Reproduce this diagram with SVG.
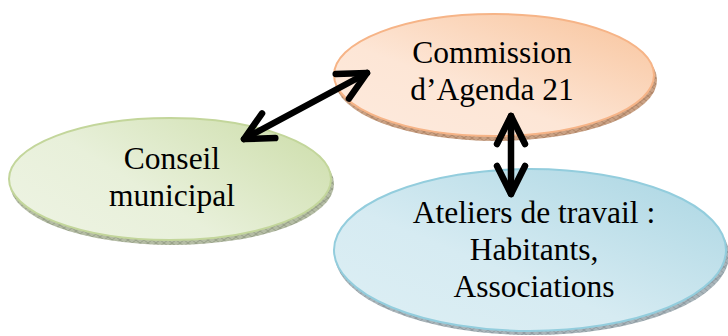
<svg xmlns="http://www.w3.org/2000/svg" width="728" height="336" viewBox="0 0 728 336">
<style>
text{font-family:'Liberation Serif','Times New Roman','DejaVu Serif',serif;font-size:31.5px;fill:#000;text-anchor:middle}
.conn{stroke:#000;stroke-width:6.5;fill:none;stroke-linecap:round;marker-start:url(#chev);marker-end:url(#chev)}
</style>
<defs>
<marker id="chev" markerUnits="userSpaceOnUse" markerWidth="70" markerHeight="70" refX="0" refY="0" viewBox="-40 -35 70 70" orient="auto-start-reverse" overflow="visible">
<path d="M -28 -14 L 0 0 L -28 14" fill="none" stroke="#000" stroke-width="6.5" stroke-linecap="round" stroke-linejoin="round"/>
</marker>
<linearGradient id="gOr" x1="1" y1="0" x2="0" y2="1">
<stop offset="0" stop-color="#f8c39b"/>
<stop offset="0.6" stop-color="#fde6d6"/>
<stop offset="1" stop-color="#fdeadd"/>
</linearGradient>
<linearGradient id="gGr" x1="1" y1="0.2" x2="0" y2="0.8">
<stop offset="0" stop-color="#cfdfae"/>
<stop offset="0.6" stop-color="#e8f0da"/>
<stop offset="1" stop-color="#edf3e2"/>
</linearGradient>
<linearGradient id="gBl" x1="1" y1="0" x2="0" y2="1">
<stop offset="0" stop-color="#a9d5e2"/>
<stop offset="0.6" stop-color="#d6ebf2"/>
<stop offset="1" stop-color="#ddeff4"/>
</linearGradient>
<pattern id="hOr" width="8" height="6" patternUnits="userSpaceOnUse">
<rect width="8" height="6" fill="#c9a184"/>
<path d="M0 6 L8 0 M0 0 L8 6" stroke="#a87c5e" stroke-width="0.8"/>
</pattern>
<pattern id="hGr" width="8" height="6" patternUnits="userSpaceOnUse">
<rect width="8" height="6" fill="#b4bca4"/>
<path d="M0 6 L8 0 M0 0 L8 6" stroke="#8f9880" stroke-width="0.8"/>
</pattern>
<pattern id="hBl" width="8" height="6" patternUnits="userSpaceOnUse">
<rect width="8" height="6" fill="#a9b5ba"/>
<path d="M0 6 L8 0 M0 0 L8 6" stroke="#86939a" stroke-width="0.8"/>
</pattern>
</defs>
<rect width="728" height="336" fill="#fff"/>

<g id="node-conseil">
<ellipse cx="172" cy="184" rx="162" ry="61" fill="url(#hGr)"/>
<ellipse cx="170" cy="179" rx="161" ry="61" fill="url(#gGr)" stroke="#c3d69b" stroke-width="2"/>
<text x="172" y="169" font-family="Liberation Serif, serif">Conseil</text>
<text x="172" y="206" font-family="Liberation Serif, serif">municipal</text>
</g>

<g id="node-commission">
<ellipse cx="496" cy="80" rx="161" ry="61" fill="url(#hOr)"/>
<ellipse cx="494" cy="75" rx="160" ry="61" fill="url(#gOr)" stroke="#f6b487" stroke-width="2"/>
<text x="492" y="63" font-family="Liberation Serif, serif">Commission</text>
<text x="492" y="100" font-family="Liberation Serif, serif">d’Agenda 21</text>
</g>

<g id="node-ateliers">
<ellipse cx="532" cy="255" rx="197" ry="80" fill="url(#hBl)"/>
<ellipse cx="530" cy="250" rx="196" ry="81" fill="url(#gBl)" stroke="#93cddd" stroke-width="2"/>
<text x="534" y="223" font-family="Liberation Serif, serif">Ateliers de travail :</text>
<text x="534" y="260" font-family="Liberation Serif, serif">Habitants,</text>
<text x="534" y="297" font-family="Liberation Serif, serif">Associations</text>
</g>

<g id="connectors">
<line class="conn" x1="244" y1="139" x2="367" y2="73"/>
<line class="conn" x1="511" y1="116" x2="511" y2="194"/>
</g>
</svg>
